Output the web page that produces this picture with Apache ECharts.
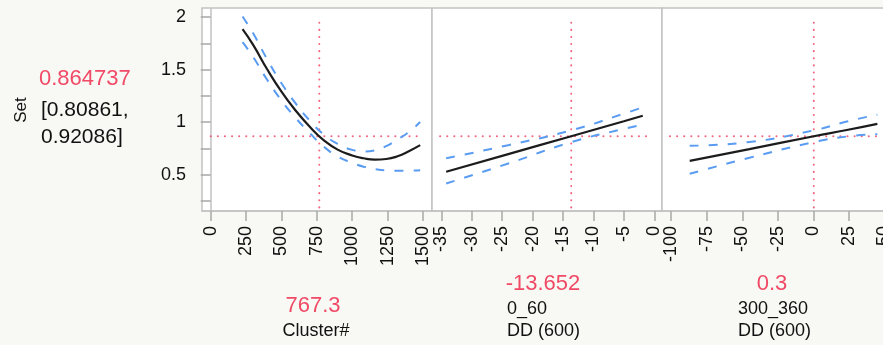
<!DOCTYPE html>
<html><head><meta charset="utf-8">
<script src="https://cdn.jsdelivr.net/npm/echarts@6/dist/echarts.min.js"></script>
<style>html,body{margin:0;padding:0;background:#f8f8f4;}#chart{width:883px;height:345px;}</style>
</head><body><div id="chart"></div>
<script>
// Prediction profile of "Set" against three factors
const responseName = 'Set';
const predicted = 0.864737;
const ciLow = 0.80861;
const ciHigh = 0.92086;

// Factor 1: Cluster#
const clusterX     = [225, 300, 400, 500, 600, 700, 800, 900, 1000, 1080, 1160, 1240, 1320, 1400, 1480];
const clusterFit   = [1.885, 1.735, 1.50, 1.29, 1.11, 0.955, 0.825, 0.735, 0.682, 0.655, 0.642, 0.648, 0.674, 0.722, 0.780];
const clusterUpper = [2.005, 1.845, 1.595, 1.37, 1.178, 1.013, 0.88, 0.79, 0.735, 0.72, 0.73, 0.77, 0.835, 0.905, 1.00];
const clusterLower = [1.76, 1.62, 1.40, 1.205, 1.04, 0.895, 0.765, 0.67, 0.612, 0.575, 0.553, 0.54, 0.537, 0.537, 0.54];

// Factor 2: 0_60 DD (600)
const dd060X     = [-34.2, -24, -13.652, -5, -1.9];
const dd060Fit   = [0.527, 0.695, 0.864737, 1.008, 1.06];
const dd060Upper = [0.655, 0.78, 0.92086, 1.08, 1.14];
const dd060Lower = [0.415, 0.605, 0.80861, 0.935, 0.975];

// Factor 3: 300_360 DD (600)
const dd300X     = [-87, -45, 0.3, 23.5, 45];
const dd300Fit   = [0.631, 0.742, 0.864737, 0.924, 0.983];
const dd300Upper = [0.774, 0.81, 0.92086, 1.005, 1.07];
const dd300Lower = [0.507, 0.66, 0.80861, 0.862, 0.885];

// Current factor settings and their labels
const currentX = [767.3, -13.652, 0.3];
const currentLabels = ['767.3', '-13.652', '0.3'];
const factorLines = [['Cluster#'], ['0_60', 'DD (600)'], ['300_360', 'DD (600)']];

// Axis ticks
const yTicks = [0.25, 0.5, 0.75, 1, 1.25, 1.5, 1.75, 2];
const yLabels = [0.5, 1, 1.5, 2];
const xTicks = [
  [0, 250, 500, 750, 1000, 1250, 1500],
  [-35, -30, -25, -20, -15, -10, -5, 0],
  [-100, -75, -50, -25, 0, 25, 50]
];
const xRanges = [[-61.5, 1563.6], [-36.53, 1.265], [-106.5, 55.3]];
const yRange = [0.153, 2.086];
// Extent of the crosshair lines in each panel
const hLineRanges = [[0, 1465], [-35.2, -1.05], [-100.9, 45.3]];
const vLineRange = [0.16, 1.946];

const RED = '#f04a66';
const BLUE = '#5a9cf2';
const FONT = '"Liberation Sans", Arial, sans-serif';

const panels = [
  { x: clusterX, fit: clusterFit, up: clusterUpper, lo: clusterLower },
  { x: dd060X, fit: dd060Fit, up: dd060Upper, lo: dd060Lower },
  { x: dd300X, fit: dd300Fit, up: dd300Upper, lo: dd300Lower }
];
const gridLefts = [202, 432, 662];
const gridWidth = 230;

const zip = (xs, ys) => xs.map((v, i) => [v, ys[i]]);
const plain = v => String(v);

const grids = gridLefts.map(l => ({
  left: l, top: 8, width: gridWidth, height: 203,
  outerBoundsMode: 'none', containLabel: false,
  show: true, backgroundColor: '#ffffff', borderColor: '#c2c2c2', borderWidth: 1.5
}));

const xAxes = xTicks.map((t, i) => ({
  type: 'value', gridIndex: i, min: xRanges[i][0], max: xRanges[i][1],
  axisLine: { show: true, lineStyle: { color: '#c2c2c2', width: 1.5 } },
  axisTick: { show: true, length: 10, customValues: t, lineStyle: { color: '#a8a8a8', width: 1.5 } },
  axisLabel: { show: true, customValues: t, formatter: plain, rotate: 90, margin: 15, color: '#111', fontSize: 18, fontFamily: FONT },
  splitLine: { show: false }
}));

const yAxes = [0, 1, 2].map(i => ({
  type: 'value', gridIndex: i, min: yRange[0], max: yRange[1],
  axisLine: { show: i === 0, lineStyle: { color: '#c2c2c2', width: 1.5 } },
  axisTick: { show: i === 0, length: 10, customValues: yTicks, lineStyle: { color: '#a8a8a8', width: 1.5 } },
  axisLabel: { show: i === 0, customValues: yLabels, formatter: plain, margin: 16, color: '#111', fontSize: 18, fontFamily: FONT },
  splitLine: { show: false }
}));

const series = [];
panels.forEach((p, i) => {
  const dotted = { color: RED, width: 2, type: [0.1, 7], cap: 'round', opacity: 0.85 };
  series.push({
    type: 'line', xAxisIndex: i, yAxisIndex: i, symbol: 'none', silent: true,
    data: [[hLineRanges[i][0], predicted], [hLineRanges[i][1], predicted]],
    lineStyle: dotted, z: 1
  });
  series.push({
    type: 'line', xAxisIndex: i, yAxisIndex: i, symbol: 'none', silent: true,
    data: [[currentX[i], vLineRange[1]], [currentX[i], vLineRange[0]]],
    lineStyle: dotted, z: 1
  });
  [p.up, p.lo].forEach(band => {
    series.push({
      type: 'line', xAxisIndex: i, yAxisIndex: i, symbol: 'none', smooth: 0.5, silent: true,
      data: zip(p.x, band),
      lineStyle: { color: BLUE, width: 2, type: [9, 10] }, z: 2
    });
  });
  series.push({
    type: 'line', xAxisIndex: i, yAxisIndex: i, symbol: 'none', smooth: 0.5, silent: true,
    data: zip(p.x, p.fit),
    lineStyle: { color: '#1c1c1c', width: 2.2 }, z: 3
  });
});

// Response value and its interval, factor settings under each panel
const txt = (x, y, s, size, color, align) => ({
  type: 'text', x, y,
  style: { text: s, font: size + 'px ' + FONT, fill: color, align: align || 'left', verticalAlign: 'middle' }
});
const g = [];
g.push({
  type: 'text', x: 21, y: 110, rotation: Math.PI / 2,
  style: { text: responseName, font: '17px ' + FONT, fill: '#111', align: 'center', verticalAlign: 'middle' }
});
g.push(txt(39, 79, String(predicted), 22, RED));
g.push(txt(41, 110, '[' + ciLow + ',', 21, '#111'));
g.push(txt(41, 137, ciHigh + ']', 21, '#111'));
g.push(txt(313, 306, currentLabels[0], 22, RED, 'center'));
g.push(txt(316, 331, factorLines[0][0], 18, '#111', 'center'));
g.push(txt(543, 284, currentLabels[1], 22, RED, 'center'));
g.push(txt(507, 309, factorLines[1][0], 18, '#111'));
g.push(txt(507, 331, factorLines[1][1], 18, '#111'));
g.push(txt(772, 284, currentLabels[2], 22, RED, 'center'));
g.push(txt(738, 309, factorLines[2][0], 18, '#111'));
g.push(txt(738, 331, factorLines[2][1], 18, '#111'));

const chart = echarts.init(document.getElementById('chart'), null, { renderer: 'canvas' });
chart.setOption({
  animation: false,
  backgroundColor: '#f8f8f4',
  grid: grids,
  xAxis: xAxes,
  yAxis: yAxes,
  series,
  graphic: g
});
</script></body></html>
